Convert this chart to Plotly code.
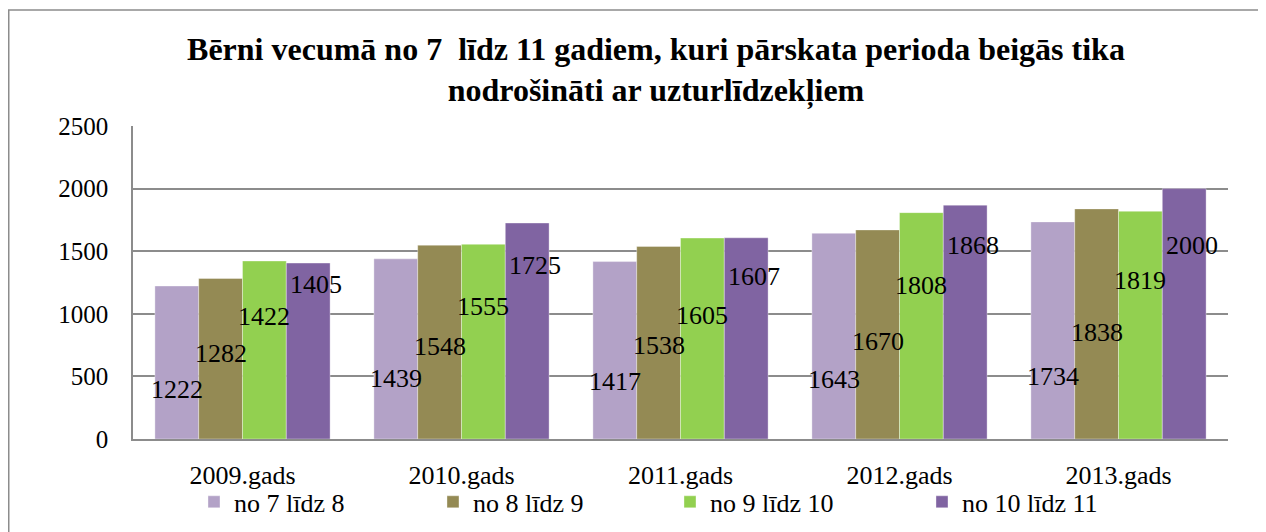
import plotly.graph_objects as go

categories = ["2009.gads", "2010.gads", "2011.gads", "2012.gads", "2013.gads"]
series_names = ["no 7 līdz 8", "no 8 līdz 9", "no 9 līdz 10", "no 10 līdz 11"]
v_7_8 = [1222, 1439, 1417, 1643, 1734]
v_8_9 = [1282, 1548, 1538, 1670, 1838]
v_9_10 = [1422, 1555, 1605, 1808, 1819]
v_10_11 = [1405, 1725, 1607, 1868, 2000]
series_values = [v_7_8, v_8_9, v_9_10, v_10_11]
colors = ["#B3A2C7", "#948A54", "#92D050", "#8064A2"]

# heights (in data units) where the data labels sit in the original chart
label_h_7_8 = [392, 480, 456, 472, 496]
label_h_8_9 = [680, 736, 744, 776, 848]
label_h_9_10 = [976, 1056, 984, 1224, 1264]
label_h_10_11 = [1232, 1384, 1296, 1544, 1544]
label_heights = [label_h_7_8, label_h_8_9, label_h_9_10, label_h_10_11]

title_text = ("Bērni vecumā no 7 \u00a0līdz 11 gadiem, kuri pārskata perioda beigās tika"
              "<br>nodrošināti ar uzturlīdzekļiem")

# the page body adds an 8px offset, so the figure is 8px smaller than the window
W, H = 1258, 524
ML, MR, MT, MB = 125, 38, 118, 93
plot_w = W - ML - MR
plot_h = H - MT - MB
bargap = 0.2
bar_px = plot_w / len(categories) * (1 - bargap) / len(series_names)
label_extra_shift = [0, 0, 0, 8]
legend_item_widths = [194, 192, 207, 200]

FONT = "Liberation Serif"

fig = go.Figure()
for name, vals, col, lw in zip(series_names, series_values, colors, legend_item_widths):
    fig.add_trace(go.Bar(
        x=categories, y=vals, name=name, legendwidth=lw,
        marker=dict(color=col, line=dict(color="rgba(255,255,255,0.6)", width=0.6)),
        hoverinfo="x+y+name",
    ))

annotations = []
n = len(series_names)
for i, (vals, hs) in enumerate(zip(series_values, label_heights)):
    for cat, v, h in zip(categories, vals, hs):
        annotations.append(dict(
            x=cat, y=h, xref="x", yref="y", text=str(v), showarrow=False,
            xshift=(i - (n - 1) / 2) * bar_px + label_extra_shift[i],
            font=dict(family=FONT, size=26, color="#000000"),
            xanchor="center", yanchor="middle",
        ))

fig.update_layout(
    width=W, height=H,
    margin=dict(l=ML, r=MR, t=MT, b=MB, autoexpand=False),
    paper_bgcolor="white", plot_bgcolor="white",
    barmode="group", bargap=bargap, bargroupgap=0,
    title=dict(text=title_text, x=0.4776, xanchor="center", xref="paper",
               y=1 - 51.5 / H, yanchor="middle", yref="container",
               font=dict(family=FONT, size=32, color="#000000", weight="bold")),
    font=dict(family=FONT, size=26, color="#000000"),
    xaxis=dict(showgrid=False, showline=True, linecolor="#8c8c8c", linewidth=1.5,
               ticks="outside", ticklen=12, tickcolor="rgba(0,0,0,0)",
               tickfont=dict(family=FONT, size=26, color="#000000")),
    yaxis=dict(range=[0, 2500], dtick=500, showgrid=True, gridcolor="#8c8c8c",
               gridwidth=1.5, showline=True, linecolor="#8c8c8c", linewidth=1.5,
               ticks="outside", ticklen=18, tickcolor="rgba(0,0,0,0)",
               zeroline=False,
               tickfont=dict(family=FONT, size=25, color="#000000")),
    legend=dict(orientation="h", x=0.0557, xanchor="left", y=-0.201, yanchor="middle",
                font=dict(family=FONT, size=26, color="#000000"),
                bgcolor="rgba(0,0,0,0)", itemclick=False),
    annotations=annotations,
    shapes=[dict(type="rect", xref="paper", yref="paper",
                 x0=(0.75 - ML) / plot_w, x1=(W + 10 - ML) / plot_w,
                 y0=(MT + plot_h - (H + 10)) / plot_h, y1=(MT + plot_h - 2) / plot_h,
                 line=dict(color="#8c8c8c", width=1.5), fillcolor="rgba(0,0,0,0)",
                 layer="below")],
    showlegend=True,
)

fig.write_html("out.html")
